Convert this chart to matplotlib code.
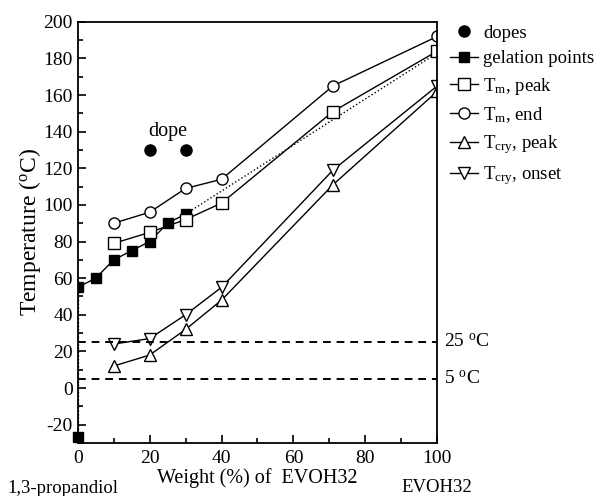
import matplotlib
matplotlib.use("Agg")
import matplotlib.pyplot as plt
from matplotlib.ticker import MultipleLocator

plt.rcParams["font.family"] = "Liberation Serif"
plt.rcParams["mathtext.fontset"] = "custom"
plt.rcParams["mathtext.rm"] = "Liberation Serif"
plt.rcParams["mathtext.it"] = "Liberation Serif"
plt.rcParams["axes.unicode_minus"] = False

# data
dope_x = [20, 30]
dope_y = [130, 130]

gel_x = [0, 5, 10, 15, 20, 25, 30]
gel_y = [55, 60, 70, 75, 80, 90, 95]
solvent_x = [0]
solvent_y = [-27]
gel_ext_x = [30, 100]
gel_ext_y = [95, 183]

comp_x = [10, 20, 30, 40, 71, 100]
tm_peak = [79, 85, 92, 101, 151, 184]
tm_end = [90, 96, 109, 114, 165, 192]
tcry_peak = [12, 18, 32, 48, 111, 162]
tcry_onset = [24, 27, 40, 55, 119, 165]

ref_temps = [25, 5]
ref_labels = ["25 $^{\\rm o}$C", "5 $^{\\rm o}$C"]

fig = plt.figure(figsize=(6.03, 4.96), dpi=100)
ax = fig.add_axes([0.129, 0.107, 0.596, 0.849])

ms = 8
ax.plot(dope_x, dope_y, "o", color="black", ms=ms, ls="none", label="dopes")
ax.plot(gel_x, gel_y, "-s", color="black", ms=ms - 0.5, lw=1, label="gelation points")
ax.plot(solvent_x, solvent_y, "s", color="black", ms=ms - 0.5, clip_on=False)
ax.plot([solvent_x[0], gel_x[0]], [solvent_y[0], gel_y[0]], ":", color="black", lw=1)
ax.plot(gel_ext_x, gel_ext_y, ":", color="black", lw=1)

style = dict(color="black", lw=1, mfc="white", mec="black", ms=ms, mew=1)
ax.plot(comp_x, tm_peak, "-s", label="T$_{\\rm m}$, peak", **style)
ax.plot(comp_x, tm_end, "-o", label="T$_{\\rm m}$, end", **style)
ax.plot(comp_x, tcry_peak, "-^", label="T$_{\\rm cry}$, peak", **style)
ax.plot(comp_x, tcry_onset, "-v", label="T$_{\\rm cry}$, onset", **style)

for t, lab in zip(ref_temps, ref_labels):
    ax.axhline(t, color="black", ls=(0, (4, 3)), lw=1.4)
    ax.text(102, t, lab, fontsize=14, va="center", ha="left")

ax.text(25, 140, "dope", fontsize=14.5, ha="center", va="center")

ax.set_xlim(0, 100)
ax.set_ylim(-30, 200)
ax.xaxis.set_major_locator(MultipleLocator(20))
ax.xaxis.set_minor_locator(MultipleLocator(10))
ax.yaxis.set_major_locator(MultipleLocator(20))
ax.yaxis.set_minor_locator(MultipleLocator(10))
ax.tick_params(which="both", direction="in", top=False, right=False, labelsize=14, width=1.2)
ax.tick_params(which="major", length=6)
ax.tick_params(which="minor", length=3.5)
ax.tick_params(axis="x", pad=5)
for s in ax.spines.values():
    s.set_linewidth(1.3)

ax.set_ylabel("Temperature ($^{\\rm o}$C)", fontsize=17, labelpad=0)
ax.set_xlabel("Weight (%) of  EVOH32", fontsize=14.5, labelpad=1)
fig.text(0.013, 0.016, "1,3-propandiol", fontsize=13.5, ha="left", va="center")
fig.text(0.725, 0.018, "EVOH32", fontsize=13.5, ha="center", va="center")

ax.legend(loc="upper left", bbox_to_anchor=(1.0, 1.025), frameon=False, fontsize=13.5,
          handlelength=1.5, handletextpad=0.25, labelspacing=0.45, borderaxespad=0.3)

fig.savefig("out.png", dpi=100)
